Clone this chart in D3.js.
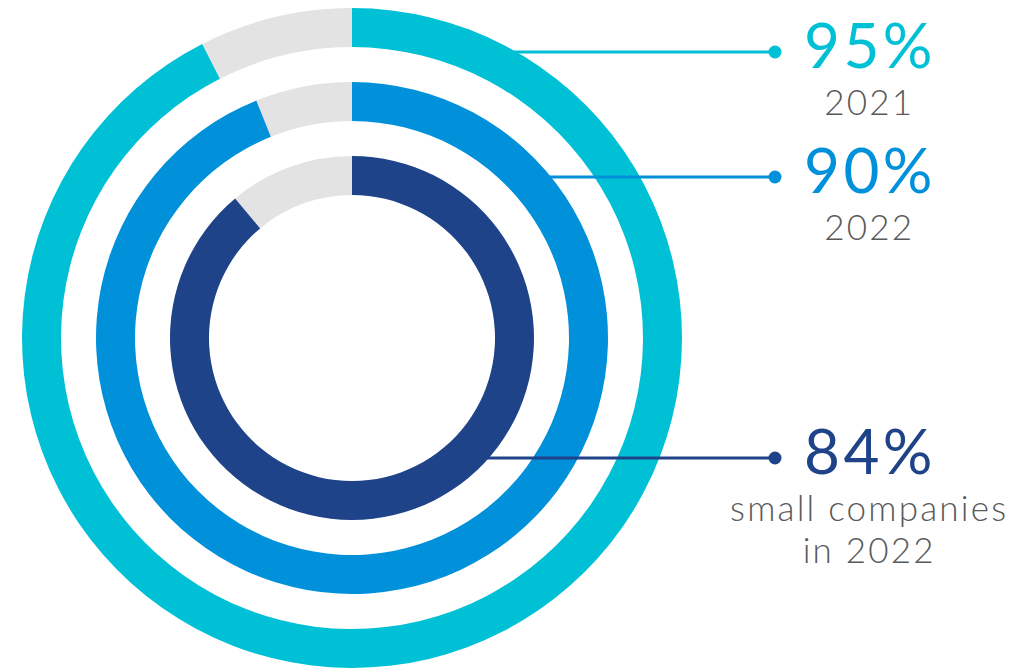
<!DOCTYPE html>
<html>
<head>
<meta charset="utf-8">
<script src="https://cdn.jsdelivr.net/npm/d3@7"></script>
<style>
  html, body { margin: 0; padding: 0; background: #fff; }
  svg text { font-family: Lato, "Open Sans", sans-serif; }
</style>
</head>
<body>
<div id="chart"></div>
<script>
// Series, outer ring to inner ring.
var series = ['2021', '2022', 'small2022'];
var values = [95, 90, 84];                       // label values, %
var arcShare = [92.5, 93.9, 88.9];               // share of the ring filled in the artwork, %
var captions = [['2021'], ['2022'], ['small companies', 'in 2022']];
var colors = ['#00c0d6', '#0091da', '#1e4389'];

(function() {
  'use strict';

  var width = 1031, height = 668;
  var cx = 352, cy = 338;
  // y of each connector line, and where the labels sit
  var labelY = [52, 177, 458];
  var dotX = 775, textX = 868;

  var svg = d3.select('#chart').append('svg')
      .attr('width', width)
      .attr('height', height);

  // radius of each ring
  var rScale = d3.scaleBand()
      .domain(series)
      .range([330, 143])
      .paddingInner(0.473);

  var angle = d3.scaleLinear().domain([0, 100]).range([0, 2 * Math.PI]);

  var arc = d3.arc();

  var rings = svg.append('g').attr('transform', 'translate(' + cx + ',' + cy + ')');

  series.forEach(function(s, i) {
    var r0 = rScale(s), r1 = r0 + rScale.bandwidth();
    // grey track
    rings.append('path')
        .attr('d', arc({innerRadius: r0, outerRadius: r1, startAngle: angle(arcShare[i]), endAngle: angle(100)}))
        .attr('fill', '#e3e3e3');
    rings.append('path')
        .attr('d', arc({innerRadius: r0, outerRadius: r1, startAngle: angle(0), endAngle: angle(arcShare[i])}))
        .attr('fill', colors[i]);
  });

  // connectors and labels
  var labels = svg.append('g');
  series.forEach(function(s, i) {
    var r1 = rScale(s) + rScale.bandwidth();
    var dy = labelY[i] - cy;
    var x0 = cx + Math.sqrt(r1 * r1 - dy * dy) - 3;

    labels.append('line')
        .attr('x1', x0).attr('x2', dotX)
        .attr('y1', labelY[i]).attr('y2', labelY[i])
        .attr('stroke', colors[i])
        .attr('stroke-width', 3);

    labels.append('circle')
        .attr('cx', dotX).attr('cy', labelY[i])
        .attr('r', 6.5)
        .attr('fill', colors[i]);

    labels.append('text')
        .attr('x', textX).attr('y', labelY[i] + 16)
        .attr('dx', 2)
        .attr('text-anchor', 'middle')
        .attr('fill', colors[i])
        .style('font-size', '62px')
        .style('font-weight', 400)
        .style('letter-spacing', '3.5px')
        .text(values[i] + '%');

    captions[i].forEach(function(c, j) {
      labels.append('text')
          .attr('x', textX).attr('y', labelY[i] + 63 + j * 42)
          .attr('dx', 1.2)
          .attr('text-anchor', 'middle')
          .attr('fill', '#58595b')
          .style('font-size', '35px')
          .style('font-weight', 300)
          .style('letter-spacing', '2.2px')
          .text(c);
    });
  });
}());
</script>
</body>
</html>
